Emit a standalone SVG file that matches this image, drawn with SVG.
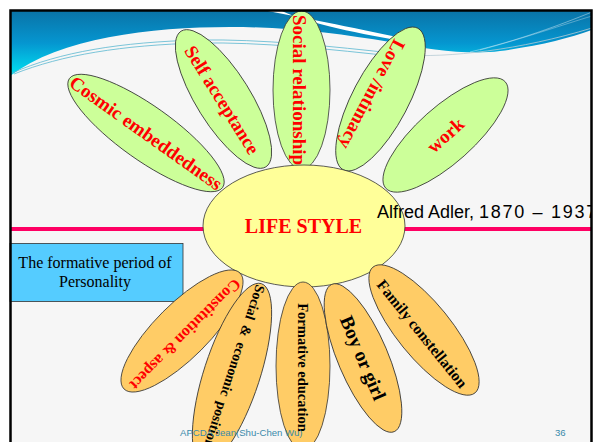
<svg xmlns="http://www.w3.org/2000/svg" width="594" height="442" viewBox="0 0 594 442">
<defs>
<linearGradient id="band" x1="0" y1="10" x2="0" y2="76" gradientUnits="userSpaceOnUse">
<stop offset="0" stop-color="#0a72a6"/>
<stop offset="0.5" stop-color="#0596d0"/>
<stop offset="1" stop-color="#00e2f2"/>
</linearGradient>
<clipPath id="frame"><rect x="10" y="10" width="581" height="440"/></clipPath>
</defs>
<style>
.pg{fill:#ccff99;stroke:#333;stroke-width:0.8}
.po{fill:#ffcc66;stroke:#333;stroke-width:0.8}
.tr{font-family:"Liberation Serif","Times New Roman",serif;font-weight:bold;fill:#ff0000;text-anchor:middle}
.tb{font-family:"Liberation Serif","Times New Roman",serif;font-weight:bold;fill:#000;text-anchor:middle}
.ft{font-family:"Liberation Sans",Arial,sans-serif;font-size:9.6px;fill:#3a8aaa}
.thin{fill:none;stroke:#5ab8d0;stroke-width:0.8}
</style>
<rect x="0" y="0" width="594" height="442" fill="#ffffff"/>
<g clip-path="url(#frame)">
<rect x="10" y="10" width="582" height="440" fill="#f6f6f6"/>
<path d="M10,10 H592 V30 C570,38 540,46 500,51 C470,55 430,50 390,42 C340,34 290,27 230,27 C150,27 60,38 10,76 Z" fill="url(#band)"/>
<path d="M262,10 C300,17 350,27 402,38 L402,41 C350,32 300,21 280,10 Z" fill="#ffffff"/>
<path class="thin" d="M12,73 C60,52 120,42 200,40 C260,39 330,46 400,54"/>
<path class="thin" d="M14,74 C62,55 122,45 200,43 C260,42 330,49 400,57"/>
<path d="M400,55 C450,58 520,50 592,28" fill="none" stroke="#b8ccd4" stroke-width="0.8"/>
<path d="M470,52 C520,40 560,25 592,12" fill="none" stroke="#ffffff" stroke-opacity="0.5" stroke-width="0.8"/>
<path d="M480,50 C525,38 565,24 592,16" fill="none" stroke="#ffffff" stroke-opacity="0.4" stroke-width="0.8"/>
<line x1="10" y1="229" x2="592" y2="229" stroke="#ff0063" stroke-width="4"/>
</g>
<g id="cosmic" transform="translate(146,133) rotate(35.4)"><ellipse class="pg" rx="94" ry="27"/><text class="tr" y="6.5" font-size="19">Cosmic embeddedness</text></g>
<g id="self" transform="translate(223.5,99) rotate(58)"><ellipse class="pg" rx="80" ry="27"/><text class="tr" y="8" font-size="19">Self acceptance</text></g>
<g id="social-rel" transform="translate(301.5,90) rotate(90)"><ellipse class="pg" rx="79" ry="28.5"/><text class="tr" y="8.5" font-size="19">Social relationship</text></g>
<g id="love" transform="translate(380.5,99) rotate(117.8)"><ellipse class="pg" rx="80" ry="28"/><text class="tr" y="16" font-size="19">Love /intimacy</text></g>
<g id="work" transform="translate(445.5,135) rotate(-41.7)"><ellipse class="pg" rx="80" ry="28"/><text class="tr" y="6.5" font-size="19">work</text></g>
<g id="center">
<ellipse cx="304" cy="226" rx="101" ry="61" fill="#ffff99" stroke="#333" stroke-width="0.8"/>
<text class="tr" x="303.5" y="233" font-size="20">LIFE STYLE</text>
</g>
<g clip-path="url(#frame)"><text x="377" y="218" font-family="Liberation Sans, Arial, sans-serif" font-size="18" fill="#000">Alfred Adler, <tspan letter-spacing="1.7">1870 – 1937</tspan></text></g>
<g id="formative-box">
<rect x="10" y="243.5" width="173" height="58" fill="#55ccff" stroke="#333" stroke-width="0.8"/>
<text x="95" y="268" font-family="Liberation Serif, Times New Roman, serif" font-size="16" fill="#000" text-anchor="middle">The formative period of</text>
<text x="95" y="287" font-family="Liberation Serif, Times New Roman, serif" font-size="16" fill="#000" text-anchor="middle">Personality</text>
</g>
<g id="constitution" transform="translate(182,331) rotate(135)"><ellipse class="po" rx="82" ry="27"/><text class="tr" y="0.5" font-size="16">Constitution &amp; aspect</text></g>
<g id="social-econ" transform="translate(232,374) rotate(108)"><ellipse class="po" rx="95" ry="28"/><text class="tb" style="text-anchor:start" x="-93" y="4.8" font-size="14" word-spacing="3">Social &amp; economic position</text></g>
<g id="formative-edu" transform="translate(303,366) rotate(90)"><ellipse class="po" rx="84" ry="27"/><text class="tb" x="1.5" y="4.9" font-size="14.5">Formative education</text></g>
<g id="boy-girl" transform="translate(363,358) rotate(67)"><ellipse class="po" rx="80" ry="25"/><text class="tb" y="6.6" font-size="19.5">Boy or girl</text></g>
<g id="family" transform="translate(424,330) rotate(51)"><ellipse class="po" rx="81" ry="27"/><text class="tb" x="1.8" y="9" font-size="15.5">Family constellation</text></g>
<g id="footer">
<text class="ft" x="180" y="436">APCDA Jean(Shu-Chen Wu)</text>
<text class="ft" x="555" y="436">36</text>
</g>
<path d="M10.5,442 V10.5 H591.5 V442" fill="none" stroke="#000" stroke-width="2.5"/>
</svg>
